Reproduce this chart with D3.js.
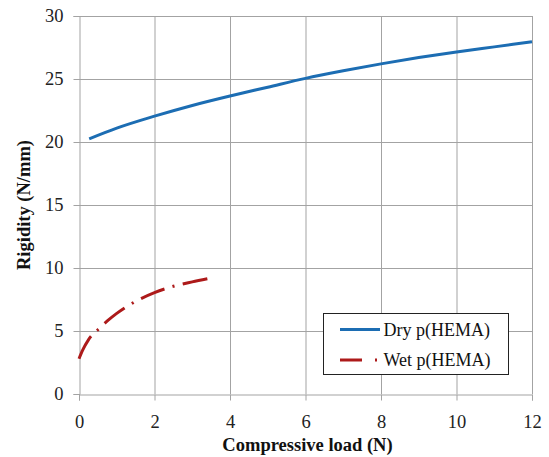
<!DOCTYPE html>
<html>
<head>
<meta charset="utf-8">
<script src="https://cdn.jsdelivr.net/npm/d3@7"></script>
<style>
  body { margin: 0; background: #fff; }
</style>
</head>
<body>
<div id="chart"></div>
<script>
// values
var dryLoad = [0.27, 1, 2, 3, 4, 5, 6, 7, 8, 9, 10, 11, 12];
var dryRigidity = [20.25, 21.1, 22.05, 22.9, 23.65, 24.35, 25.05, 25.65, 26.2, 26.7, 27.15, 27.55, 27.95];
var wetLoad = [0, 0.1, 0.25, 0.5, 0.75, 1, 1.5, 2, 2.5, 3, 3.4];
var wetRigidity = [2.8, 3.5, 4.3, 5.1, 5.8, 6.4, 7.35, 8.05, 8.55, 8.9, 9.15];
var xTicks = [0, 2, 4, 6, 8, 10, 12];
var yTicks = [0, 5, 10, 15, 20, 25, 30];
var seriesNames = ["Dry p(HEMA)", "Wet p(HEMA)"];

var width = 549, height = 457;
var margin = {left: 79, right: 17, top: 16, bottom: 63};
var serif = "'Liberation Serif', 'Times New Roman', serif";

var svg = d3.select("#chart").append("svg")
  .attr("width", width)
  .attr("height", height)
  .attr("font-family", serif);

var x = d3.scaleLinear().domain([0, 12]).range([margin.left, width - margin.right]);
var y = d3.scaleLinear().domain([0, 30]).range([height - margin.bottom, margin.top]);

var gridColor = "#a3a3a3";

// gridlines
svg.append("g").selectAll("line.v")
  .data(xTicks.slice(1))
  .enter().append("line")
    .attr("x1", function(d) { return x(d) + 0.5; })
    .attr("x2", function(d) { return x(d) + 0.5; })
    .attr("y1", y(30))
    .attr("y2", y(0))
    .attr("stroke", gridColor);

svg.append("g").selectAll("line.h")
  .data(yTicks.slice(1))
  .enter().append("line")
    .attr("x1", x(0))
    .attr("x2", x(12))
    .attr("y1", function(d) { return Math.round(y(d)) + 0.5; })
    .attr("y2", function(d) { return Math.round(y(d)) + 0.5; })
    .attr("stroke", gridColor);

// axes
var xAxis = svg.append("g")
  .attr("transform", "translate(0," + (Math.round(y(0)) + 0.5) + ")")
  .call(d3.axisBottom(x).tickValues(xTicks).tickSize(6).tickPadding(14));
var yAxis = svg.append("g")
  .attr("transform", "translate(" + (Math.round(x(0)) + 0.5) + ",0)")
  .call(d3.axisLeft(y).tickValues(yTicks).tickSize(6).tickPadding(10));

[xAxis, yAxis].forEach(function(a) {
  a.attr("font-family", serif).attr("font-size", 18.5);
  a.select(".domain").attr("stroke", gridColor);
  a.selectAll(".tick line").attr("stroke", gridColor);
  a.selectAll(".tick text").attr("fill", "#222");
});

// axis titles
svg.append("text")
  .attr("x", (x(0) + x(12)) / 2 + 2)
  .attr("y", 451)
  .attr("text-anchor", "middle")
  .attr("font-size", 18.5)
  .attr("font-weight", "bold")
  .attr("fill", "#111")
  .text("Compressive load (N)");

svg.append("text")
  .attr("transform", "translate(30," + ((y(0) + y(30)) / 2) + ") rotate(-90)")
  .attr("text-anchor", "middle")
  .attr("font-size", 18.5)
  .attr("font-weight", "bold")
  .attr("fill", "#111")
  .text("Rigidity (N/mm)");

// lines
var blue = "#1c6db3", red = "#ad1a1a";

var line = d3.line()
  .x(function(d) { return x(d[0]); })
  .y(function(d) { return y(d[1]); })
  .curve(d3.curveMonotoneX);

svg.append("path")
  .datum(d3.zip(dryLoad, dryRigidity))
  .attr("d", line)
  .attr("fill", "none")
  .attr("stroke", blue)
  .attr("stroke-width", 3);

var wetPath = svg.append("path")
  .datum(d3.zip(wetLoad, wetRigidity))
  .attr("d", line)
  .attr("fill", "none")
  .attr("stroke", red)
  .attr("stroke-width", 3);

// long-dash / dot pattern, stretched so the line ends on a dash
var dash = [24, 8, 2, 8];
var period = d3.sum(dash);
var len = wetPath.node().getTotalLength();
var n = Math.round((len - dash[0]) / period);
var k = len / (n * period + dash[0]);
wetPath.attr("stroke-dasharray", dash.map(function(d) { return d * k; }).join(","));

// legend
var legend = svg.append("g").attr("transform", "translate(323.5,313.5)");
legend.append("rect")
  .attr("width", 185)
  .attr("height", 61)
  .attr("fill", "#fff")
  .attr("stroke", "#222");

var rows = legend.selectAll("g.row")
  .data(seriesNames)
  .enter().append("g")
    .attr("transform", function(d, i) { return "translate(0," + (16 + i * 30.5) + ")"; });

rows.append("line")
  .attr("x1", 16.5)
  .attr("x2", 56.5)
  .attr("stroke", function(d, i) { return i ? red : blue; })
  .attr("stroke-width", 3)
  .attr("stroke-dasharray", function(d, i) { return i ? "22,13,2,13" : null; });

rows.append("text")
  .attr("x", 60)
  .attr("y", 6)
  .attr("font-size", 18)
  .attr("fill", "#111")
  .text(function(d) { return d; });
</script>
</body>
</html>
